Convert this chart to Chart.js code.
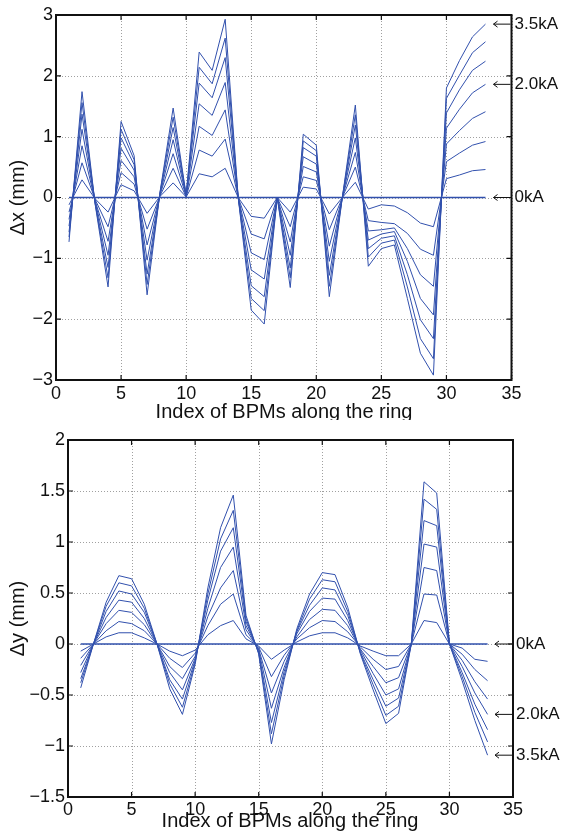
<!DOCTYPE html>
<html>
<head>
<meta charset="UTF-8">
<title>Orbit shift at the BPMs</title>
<script src="https://cdn.jsdelivr.net/npm/chart.js@4.4.1/dist/chart.umd.min.js"></script>
<style>
  body { margin: 0; background: #fff; }
  .box { position: absolute; left: 0; width: 561px; }
</style>
</head>
<body>
<div class="box" style="top:0;height:420px"><canvas id="chartX"></canvas></div>
<div class="box" style="top:420px;height:417px"><canvas id="chartY"></canvas></div>
<script>
// BPM index along the ring
var bpmIndex = [1,2,3,4,5,6,7,8,9,10,11,12,13,14,15,16,17,18,19,20,21,22,23,24,25,26,27,28,29,30,31,32,33];
var currents = ['0kA','0.5kA','1.0kA','1.5kA','2.0kA','2.5kA','3.0kA','3.5kA'];
var labelled = ['0kA','2.0kA','3.5kA'];

var xTicks = [0,5,10,15,20,25,30,35];
var dxTicks = [-3,-2,-1,0,1,2,3];
var dyTicks = [-1.5,-1,-0.5,0,0.5,1,1.5,2];

// horizontal orbit shift (mm)
var dx00 = [0,0,0,0,0,0,0,0,0,0,0,0,0,0,0,0,0,0,0,0,0,0,0,0,0,0,0,0,0,0,0,0,0];
var dx05 = [-0.12,0.29,-0.02,-0.24,0.21,0.11,-0.26,0.02,0.24,0.01,0.39,0.34,0.48,0,-0.31,-0.34,0,-0.24,0.17,0.14,-0.27,0,0.25,-0.19,-0.12,-0.14,-0.25,-0.42,-0.48,0.31,0.37,0.44,0.46];
var dx10 = [-0.24,0.57,-0.03,-0.48,0.41,0.22,-0.52,0.03,0.48,0.01,0.78,0.68,0.96,0,-0.60,-0.68,0,-0.48,0.34,0.28,-0.53,0,0.50,-0.38,-0.41,-0.43,-0.59,-0.85,-0.95,0.59,0.73,0.86,0.92];
var dx15 = [-0.36,0.85,-0.05,-0.72,0.61,0.34,-0.78,0.05,0.72,0.02,1.17,1.02,1.44,0,-0.91,-1.02,0,-0.73,0.51,0.42,-0.80,0,0.74,-0.55,-0.53,-0.50,-0.84,-1.27,-1.46,0.88,1.10,1.30,1.41];
var dx20 = [-0.47,1.12,-0.06,-0.95,0.81,0.45,-1.03,0.06,0.95,0.03,1.54,1.35,1.89,0,-1.19,-1.34,0,-0.95,0.67,0.55,-1.05,0,0.98,-0.70,-0.60,-0.56,-1.05,-1.66,-1.93,1.14,1.45,1.72,1.86];
var dx25 = [-0.57,1.37,-0.08,-1.15,0.98,0.54,-1.26,0.08,1.15,0.03,1.88,1.64,2.30,0,-1.45,-1.63,0,-1.16,0.82,0.68,-1.28,0,1.19,-0.84,-0.67,-0.63,-1.27,-2.01,-2.32,1.39,1.77,2.09,2.24];
var dx30 = [-0.65,1.56,-0.09,-1.32,1.12,0.62,-1.43,0.09,1.32,0.04,2.14,1.87,2.62,0,-1.66,-1.86,0,-1.32,0.93,0.77,-1.46,0,1.36,-0.98,-0.75,-0.70,-1.47,-2.32,-2.65,1.63,2.01,2.38,2.56];
var dx35 = [-0.73,1.74,-0.10,-1.47,1.25,0.69,-1.60,0.10,1.47,0.04,2.39,2.09,2.93,0,-1.85,-2.08,0,-1.48,1.04,0.86,-1.63,0,1.52,-1.13,-0.84,-0.78,-1.66,-2.56,-2.92,1.80,2.25,2.64,2.85];

// vertical orbit shift (mm)
var dy00 = [0,0,0,0,0,0,0,0,0,0,0,0,0,0,0,0,0,0,0,0,0,0,0,0,0,0,0,0,0,0,0,0,0];
var dy05 = [-0.07,0,0.07,0.11,0.11,0.06,0,-0.07,-0.115,-0.06,0.09,0.18,0.23,0.05,-0.02,-0.15,-0.06,0.02,0.08,0.11,0.11,0.06,-0.02,-0.07,-0.115,-0.115,0,0.23,0.21,0,-0.04,-0.15,-0.17];
var dy10 = [-0.14,0,0.13,0.22,0.20,0.13,0,-0.14,-0.23,-0.09,0.18,0.39,0.49,0.09,-0.03,-0.32,-0.11,0.05,0.16,0.23,0.22,0.12,-0.03,-0.15,-0.25,-0.22,0,0.49,0.48,0,-0.10,-0.25,-0.36];
var dy15 = [-0.21,0,0.20,0.33,0.31,0.19,0,-0.22,-0.34,-0.12,0.27,0.55,0.72,0.14,-0.05,-0.48,-0.17,0.07,0.24,0.34,0.33,0.18,-0.05,-0.22,-0.38,-0.33,0,0.75,0.72,0,-0.16,-0.37,-0.54];
var dy20 = [-0.28,0,0.26,0.43,0.41,0.25,0,-0.28,-0.45,-0.14,0.35,0.75,0.95,0.18,-0.06,-0.63,-0.23,0.10,0.32,0.45,0.44,0.23,-0.06,-0.29,-0.50,-0.44,0,0.98,0.95,0,-0.22,-0.48,-0.69];
var dy25 = [-0.34,0,0.32,0.52,0.49,0.31,0,-0.35,-0.54,-0.16,0.43,0.91,1.14,0.22,-0.08,-0.77,-0.27,0.12,0.38,0.55,0.53,0.28,-0.08,-0.35,-0.61,-0.53,0,1.21,1.16,0,-0.28,-0.59,-0.84];
var dy30 = [-0.38,0,0.37,0.60,0.57,0.35,0,-0.39,-0.62,-0.18,0.49,1.03,1.31,0.25,-0.09,-0.88,-0.31,0.13,0.44,0.63,0.61,0.32,-0.09,-0.40,-0.70,-0.61,0,1.42,1.32,0,-0.32,-0.67,-0.96];
var dy35 = [-0.43,0,0.41,0.67,0.64,0.39,0,-0.44,-0.69,-0.20,0.55,1.14,1.46,0.28,-0.10,-0.98,-0.35,0.15,0.49,0.70,0.68,0.36,-0.10,-0.45,-0.78,-0.68,0,1.59,1.48,0,-0.36,-0.75,-1.09];

var lineColor = '#3150ad';
var font = "'Liberation Sans', Arial, sans-serif";

function makeSets(list) {
    return list.map(function(vals, k) {
        return {
            label: currents[k],
            data: vals.map(function(v, i) { return {x: bpmIndex[i], y: v}; }),
            borderColor: lineColor,
            borderWidth: k === 0 ? 1.4 : 1,
            pointRadius: 0,
            tension: 0,
            fill: false
        };
    });
}

function fmt(v) {
    return String(v).replace('-', '\u2212');
}

function frame(o) {
    return {
        id: 'frame',
        beforeDatasetsDraw: function(chart) {
            var ctx = chart.ctx, a = chart.chartArea, sx = chart.scales.x, sy = chart.scales.y;
            ctx.save();
            ctx.strokeStyle = '#a0a0a0';
            ctx.lineWidth = 1;
            ctx.setLineDash([1, 2]);
            ctx.beginPath();
            xTicks.forEach(function(v) {
                var p = Math.round(sx.getPixelForValue(v)) + 0.5;
                ctx.moveTo(p, a.top); ctx.lineTo(p, a.bottom);
            });
            o.yTicks.forEach(function(v) {
                var p = Math.round(sy.getPixelForValue(v)) + 0.5;
                ctx.moveTo(a.left, p); ctx.lineTo(a.right, p);
            });
            ctx.stroke();
            ctx.restore();
        },
        afterDraw: function(chart) {
            var ctx = chart.ctx, a = chart.chartArea, sx = chart.scales.x, sy = chart.scales.y;
            ctx.save();
            ctx.strokeStyle = '#111';
            ctx.lineWidth = 1.2;
            ctx.beginPath();
            xTicks.forEach(function(v) {
                var p = sx.getPixelForValue(v);
                ctx.moveTo(p, a.top); ctx.lineTo(p, a.top + 5);
                ctx.moveTo(p, a.bottom); ctx.lineTo(p, a.bottom - 5);
            });
            o.yTicks.forEach(function(v) {
                var p = sy.getPixelForValue(v);
                ctx.moveTo(a.left, p); ctx.lineTo(a.left + 5, p);
                ctx.moveTo(a.right, p); ctx.lineTo(a.right - 5, p);
            });
            ctx.stroke();
            ctx.lineWidth = 2;
            ctx.strokeRect(a.left, a.top, a.right - a.left, a.bottom - a.top);

            ctx.fillStyle = '#111';
            ctx.font = '18px ' + font;
            ctx.textAlign = 'center';
            ctx.textBaseline = 'alphabetic';
            xTicks.forEach(function(v) {
                ctx.fillText(fmt(v), sx.getPixelForValue(v), a.bottom + o.tickBase);
            });
            ctx.textAlign = 'right';
            ctx.textBaseline = 'middle';
            o.yTicks.forEach(function(v) {
                ctx.fillText(fmt(v), a.left - 3, sy.getPixelForValue(v));
            });

            ctx.font = '20px ' + font;
            ctx.textAlign = 'center';
            ctx.textBaseline = 'alphabetic';
            ctx.fillText('Index of BPMs along the ring', o.titleX, a.bottom + o.titleBase);

            ctx.save();
            ctx.translate(18, (a.top + a.bottom) / 2);
            ctx.rotate(-Math.PI / 2);
            ctx.font = '20px ' + font;
            ctx.textBaseline = 'middle';
            ctx.fillText(o.yTitle, 0, 0);
            ctx.restore();

            // current labels at the curve ends
            ctx.font = '17px ' + font;
            ctx.textAlign = 'left';
            ctx.textBaseline = 'middle';
            ctx.lineWidth = 1;
            labelled.forEach(function(name) {
                var k = currents.indexOf(name);
                var vals = o.series[k];
                var py = sy.getPixelForValue(vals[vals.length - 1]);
                var x0 = a.right - 18, x1 = a.right - 1;
                ctx.beginPath();
                ctx.moveTo(x1, py); ctx.lineTo(x0, py);
                ctx.moveTo(x0 + 4, py - 3); ctx.lineTo(x0, py); ctx.lineTo(x0 + 4, py + 3);
                ctx.stroke();
                ctx.fillText(name, a.right + 3, py);
            });
            ctx.restore();
        }
    };
}

function makeChart(id, series, yMin, yMax, o) {
    o.series = series;
    return new Chart(id, {
        type: 'line',
        data: { datasets: makeSets(series) },
        options: {
            responsive: true,
            maintainAspectRatio: false,
            animation: false,
            layout: { padding: o.pad },
            plugins: { legend: { display: false }, tooltip: { enabled: false } },
            scales: {
                x: { type: 'linear', min: 0, max: 35, display: false },
                y: { type: 'linear', min: yMin, max: yMax, display: false }
            }
        },
        plugins: [frame(o)]
    });
}

var chartX = makeChart('chartX', [dx00, dx05, dx10, dx15, dx20, dx25, dx30, dx35], -3, 3, {
    pad: { left: 56, right: 49.5, top: 15, bottom: 40 },
    yTicks: dxTicks, yTitle: '\u0394x (mm)', tickBase: 19, titleBase: 38, titleX: 284
});
var chartY = makeChart('chartY', [dy00, dy05, dy10, dy15, dy20, dy25, dy30, dy35], -1.5, 2, {
    pad: { left: 68, right: 48, top: 20, bottom: 40 },
    yTicks: dyTicks, yTitle: '\u0394y (mm)', tickBase: 18, titleBase: 30, titleX: 290
});
</script>
</body>
</html>
